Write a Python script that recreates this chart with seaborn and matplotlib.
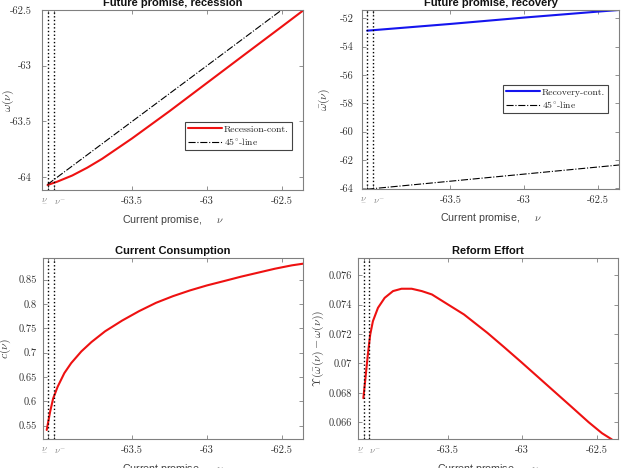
import matplotlib
matplotlib.use("Agg")
import matplotlib.pyplot as plt
import seaborn as sns

# bounds of the promise grid
NU_LOW = -64.065   # \underline{nu}
NU_MINUS = -64.025  # nu^-

# recession continuation value
nu_rec = [-64.065, -64.0, -63.9, -63.8, -63.7, -63.5, -63.25, -63.0, -62.75, -62.5, -62.355]
omega_rec = [-64.07, -64.04, -63.985, -63.915, -63.835, -63.652, -63.408, -63.155, -62.902, -62.65, -62.503]

# recovery continuation value
nu_recov = [-64.065, -63.5, -63.0, -62.5, -62.355]
omega_recov = [-52.875, -52.40, -51.95, -51.53, -51.414]

# 45 degree line
nu_45 = [-64.065, -62.355]

# current consumption
nu_cons = [-64.073, -64.05, -64.03, -64.0, -63.955, -63.909, -63.841, -63.773, -63.682,
           -63.568, -63.455, -63.341, -63.227, -63.114, -63.0, -62.886, -62.773,
           -62.659, -62.545, -62.432, -62.341]
cons = [0.541, 0.5788, 0.6056, 0.6297, 0.6578, 0.6784, 0.7024, 0.7217, 0.7437,
        0.7657, 0.785, 0.8022, 0.8159, 0.8276, 0.8379, 0.8468, 0.8558,
        0.864, 0.8722, 0.8791, 0.8832]

# reform effort
nu_eff = [-64.066, -64.052, -64.036, -64.02, -64.002, -63.968, -63.923, -63.867,
          -63.81, -63.742, -63.674, -63.606, -63.505, -63.391, -63.233, -63.12,
          -63.007, -62.894, -62.78, -62.667, -62.554, -62.464, -62.4, -62.355]
effort = [0.06764, 0.06901, 0.0706, 0.07197, 0.07288, 0.07379, 0.07447, 0.07493,
          0.07509, 0.07509, 0.07493, 0.0747, 0.07406, 0.07334, 0.07208, 0.0711,
          0.0701, 0.06908, 0.06805, 0.06703, 0.066, 0.06525, 0.06484, 0.06443]

x_ticks = [NU_LOW, NU_MINUS, -63.5, -63.0, -62.5]
x_ticklabels = [r"$\underset{-}{\nu}$", r"$\nu^{-}$", "-63.5", "-63", "-62.5"]

yt_rec = [-64, -63.5, -63, -62.5]
yl_rec = ["-64", "-63.5", "-63", "-62.5"]
yt_recov = [-64, -62, -60, -58, -56, -54, -52]
yl_recov = ["-64", "-62", "-60", "-58", "-56", "-54", "-52"]
yt_cons = [0.55, 0.6, 0.65, 0.7, 0.75, 0.8, 0.85]
yl_cons = ["0.55", "0.6", "0.65", "0.7", "0.75", "0.8", "0.85"]
yt_eff = [0.066, 0.068, 0.07, 0.072, 0.074, 0.076]
yl_eff = ["0.066", "0.068", "0.07", "0.072", "0.074", "0.076"]

sns.set_style("ticks")
plt.rcParams['mathtext.fontset'] = 'cm'
plt.rcParams['font.family'] = ['Liberation Sans', 'DejaVu Sans']

FRAME = '#808080'
TXT = '#333333'
XLIM = (-64.1, -62.355)


def style_axes(ax, yticks, ylabels, ylim, ylabel, ypad, ylab_x, title):
    """MATLAB-like boxed axes with inward ticks."""
    ax.set_xlim(XLIM)
    ax.set_ylim(ylim)
    for sp in ax.spines.values():
        sp.set_visible(True)
        sp.set_color(FRAME)
        sp.set_linewidth(0.8)
    ax.axvline(NU_LOW, ls=':', color='k', lw=1.0)
    ax.axvline(NU_MINUS, ls=':', color='k', lw=1.0)
    ax.set_xticks(x_ticks)
    ax.set_xticklabels(x_ticklabels, fontfamily='cmr10', fontsize=7.5, color=TXT)
    lab_low, lab_minus = ax.get_xticklabels()[:2]
    for lbl in (lab_low, lab_minus):
        lbl.set_color('#888888')
        lbl.set_fontsize(6.8)
    lab_low.set_horizontalalignment('right')
    lab_minus.set_horizontalalignment('left')
    ax.set_yticks(yticks)
    ax.set_yticklabels(ylabels, fontfamily='cmr10', fontsize=7.5, color=TXT)
    ax.tick_params(direction='in', length=3, width=0.6, color=FRAME,
                   top=True, right=True)
    ax.tick_params(axis='x', pad=5)
    ax.tick_params(axis='y', pad=ypad)
    ax.set_xlabel(r"Current promise,  $\quad\nu$", fontsize=7.7, color='#404040')
    ax.xaxis.set_label_coords(0.5, -0.125)
    ax.set_ylabel(ylabel, fontsize=8.5, color='#404040')
    ax.yaxis.set_label_coords(ylab_x, 0.5)
    ax.set_title(title, fontsize=8, fontweight='bold', pad=3, color='#111111')


fig = plt.figure(figsize=(6.24, 4.68), dpi=100)
ax_tl = fig.add_axes([0.0678, 0.594, 0.4183, 0.3846])
ax_tr = fig.add_axes([0.5801, 0.5962, 0.4123, 0.3825])
ax_bl = fig.add_axes([0.0684, 0.0620, 0.4177, 0.3860])
ax_br = fig.add_axes([0.5742, 0.0620, 0.4167, 0.3860])

# Future promise, recession
sns.lineplot(x=nu_rec, y=omega_rec, ax=ax_tl, color='#ee1111', lw=1.5,
             sort=False, label='Recession-cont.')
sns.lineplot(x=nu_45, y=nu_45, ax=ax_tl, color='k', lw=0.8, ls='-.',
             sort=False, label=r'45$^{\circ}$-line')
style_axes(ax_tl, yt_rec, yl_rec, (-64.115, -62.5), r'$\omega(\nu)$', 7.5,
           -0.10, 'Future promise, recession')

# Future promise, recovery
sns.lineplot(x=nu_recov, y=omega_recov, ax=ax_tr, color='#1515ee', lw=1.5,
             sort=False, label='Recovery-cont.')
sns.lineplot(x=nu_45, y=nu_45, ax=ax_tr, color='k', lw=0.8, ls='-.',
             sort=False, label=r'45$^{\circ}$-line')
style_axes(ax_tr, yt_recov, yl_recov, (-64.05, -51.414), r'$\bar{\omega}(\nu)$', 6,
           -0.115, 'Future promise, recovery')

# Current consumption
sns.lineplot(x=nu_cons, y=cons, ax=ax_bl, color='#ee1111', lw=1.5, sort=False)
style_axes(ax_bl, yt_cons, yl_cons, (0.5225, 0.8935), r'$c(\nu)$', 4,
           -0.115, 'Current Consumption')

# Reform effort
sns.lineplot(x=nu_eff, y=effort, ax=ax_br, color='#ee1111', lw=1.5, sort=False)
style_axes(ax_br, yt_eff, yl_eff, (0.06486, 0.07716),
           r'$\Upsilon(\bar{\omega}(\nu) - \omega(\nu))$', 4.8, -0.125, 'Reform Effort')

leg_kw = dict(loc='upper left', borderaxespad=0, fancybox=False, framealpha=1,
              edgecolor='#444444', handlelength=3.5, handletextpad=0.2,
              labelspacing=0.25, borderpad=0.3, prop={'family': 'cmr10', 'size': 7})
leg = ax_tl.legend(bbox_to_anchor=(0.547, 0.378), **leg_kw)
leg.get_frame().set_linewidth(0.8)
leg = ax_tr.legend(bbox_to_anchor=(0.547, 0.581), **leg_kw)
leg.get_frame().set_linewidth(0.8)

fig.savefig("out.png", dpi=100)
